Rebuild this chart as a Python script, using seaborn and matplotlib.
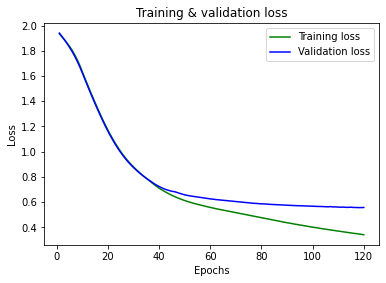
import matplotlib
matplotlib.use("Agg")
import matplotlib.pyplot as plt
import seaborn as sns
import pandas as pd

epochs = list(range(1, 121))

training_loss = [
    1.935, 1.911, 1.887, 1.861, 1.834, 1.803, 1.768, 1.728, 1.683, 1.632,
    1.581, 1.531, 1.482, 1.434, 1.387, 1.341, 1.296, 1.252, 1.210, 1.170,
    1.132, 1.096, 1.062, 1.030, 1.000, 0.972, 0.946, 0.922, 0.900, 0.879,
    0.859, 0.840, 0.822, 0.805, 0.789, 0.772, 0.756, 0.740, 0.725, 0.711,
    0.698, 0.686, 0.675, 0.664, 0.654, 0.645, 0.636, 0.628, 0.620, 0.613,
    0.606, 0.600, 0.594, 0.588, 0.583, 0.578, 0.573, 0.568, 0.563, 0.558,
    0.554, 0.549, 0.545, 0.541, 0.537, 0.533, 0.529, 0.525, 0.521, 0.517,
    0.513, 0.509, 0.505, 0.501, 0.497, 0.493, 0.489, 0.485, 0.481, 0.477,
    0.473, 0.469, 0.465, 0.461, 0.457, 0.453, 0.449, 0.445, 0.441, 0.437,
    0.434, 0.430, 0.426, 0.423, 0.419, 0.416, 0.412, 0.409, 0.405, 0.402,
    0.399, 0.396, 0.392, 0.389, 0.386, 0.383, 0.380, 0.377, 0.374, 0.371,
    0.368, 0.365, 0.362, 0.359, 0.356, 0.353, 0.351, 0.348, 0.345, 0.342,
]

validation_loss = [
    1.940, 1.913, 1.886, 1.857, 1.826, 1.793, 1.756, 1.715, 1.671, 1.622,
    1.572, 1.522, 1.473, 1.425, 1.378, 1.332, 1.287, 1.243, 1.201, 1.161,
    1.123, 1.088, 1.054, 1.022, 0.993, 0.965, 0.940, 0.916, 0.894, 0.874,
    0.855, 0.837, 0.820, 0.804, 0.789, 0.775, 0.762, 0.747, 0.735, 0.724,
    0.714, 0.705, 0.698, 0.692, 0.686, 0.683, 0.677, 0.670, 0.664, 0.658,
    0.654, 0.650, 0.647, 0.644, 0.641, 0.638, 0.635, 0.632, 0.629, 0.626,
    0.624, 0.621, 0.619, 0.617, 0.615, 0.613, 0.611, 0.609, 0.607, 0.605,
    0.603, 0.601, 0.599, 0.597, 0.595, 0.593, 0.591, 0.590, 0.588, 0.587,
    0.586, 0.585, 0.583, 0.582, 0.581, 0.580, 0.579, 0.578, 0.577, 0.576,
    0.575, 0.574, 0.573, 0.572, 0.572, 0.571, 0.570, 0.569, 0.569, 0.568,
    0.567, 0.566, 0.566, 0.565, 0.564, 0.563, 0.565, 0.562, 0.563, 0.561,
    0.560, 0.561, 0.559, 0.559, 0.560, 0.558, 0.558, 0.557, 0.557, 0.558,
]

df = pd.DataFrame({"epoch": epochs, "train": training_loss, "val": validation_loss})

fig, ax = plt.subplots(figsize=(6, 4), dpi=72)
sns.lineplot(data=df, x="epoch", y="train", color="g", label="Training loss", ax=ax)
sns.lineplot(data=df, x="epoch", y="val", color="b", label="Validation loss", ax=ax)
ax.set_title("Training & validation loss")
ax.set_xlabel("Epochs")
ax.set_ylabel("Loss")
ax.legend(loc="upper right")
fig.savefig("out.png", dpi=72, bbox_inches="tight")
